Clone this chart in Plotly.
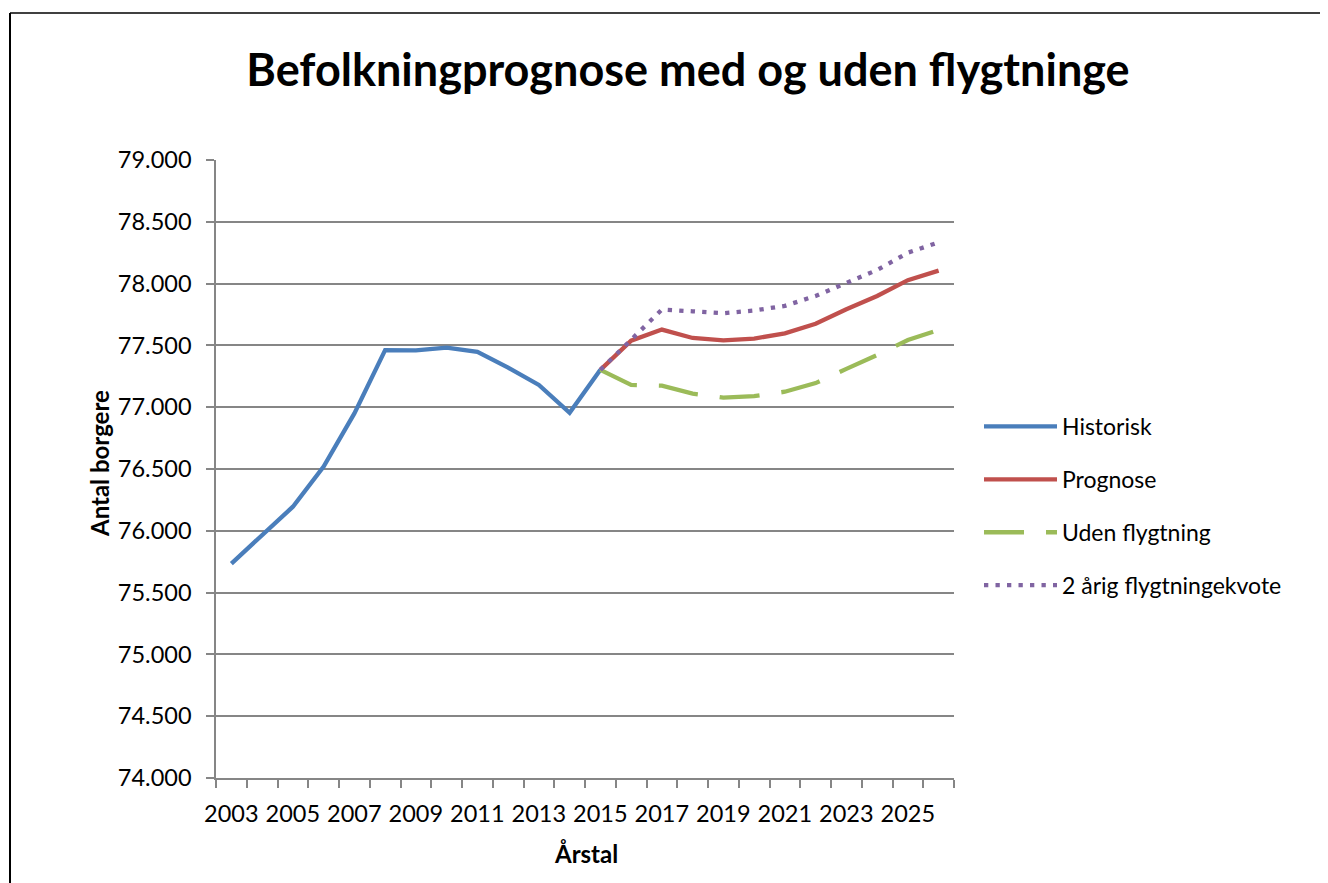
import plotly.graph_objects as go

years_hist = [2003, 2004, 2005, 2006, 2007, 2008, 2009, 2010, 2011, 2012, 2013, 2014, 2015]
historisk = [75735, 75965, 76195, 76520, 76950, 77462, 77460, 77482, 77448, 77320, 77180, 76955, 77302]

years_prog = [2015, 2016, 2017, 2018, 2019, 2020, 2021, 2022, 2023, 2024, 2025, 2026]
prognose = [77302, 77538, 77628, 77560, 77540, 77555, 77598, 77675, 77792, 77900, 78028, 78105]
uden_flygtning = [77302, 77180, 77174, 77110, 77078, 77090, 77125, 77195, 77310, 77422, 77544, 77625]
to_aarig = [77302, 77545, 77790, 77776, 77760, 77782, 77820, 77900, 78002, 78110, 78250, 78334]

x_labels = [2003, 2005, 2007, 2009, 2011, 2013, 2015, 2017, 2019, 2021, 2023, 2025]
y_ticks = [74000, 74500, 75000, 75500, 76000, 76500, 77000, 77500, 78000, 78500, 79000]

FONT = "Lato"
fig = go.Figure()
fig.add_trace(go.Scatter(x=years_hist, y=historisk, mode="lines", name="Historisk",
                         legendgroup="a", line=dict(color="#4A7EBB", width=4.3)))
fig.add_trace(go.Scatter(x=years_prog, y=prognose, mode="lines", name="Prognose",
                         legendgroup="b", line=dict(color="#C0504D", width=4.3)))
fig.add_trace(go.Scatter(x=years_prog, y=uden_flygtning, mode="lines", name="Uden flygtning",
                         legendgroup="c", line=dict(color="#9BBB59", width=4.3, dash="40px,22px")))
fig.add_trace(go.Scatter(x=years_prog, y=to_aarig, mode="lines", name="2 årig flygtningekvote",
                         legendgroup="d", line=dict(color="#8064A2", width=4.3, dash="4.3px,7.2px")))

# page has an 8px body margin; work in page pixel coordinates and subtract it
OFF = 8
W, H = 1328 - OFF, 883 - OFF
L, R, T, B = 216 - OFF, 954 - OFF, 160 - OFF, 778 - OFF
pw, ph = R - L, B - T


def px_x(p):
    return (p - OFF - L) / pw


def px_y(p):
    return (B - (p - OFF)) / ph


fig.update_layout(
    width=W, height=H,
    margin=dict(l=L, r=W - R, t=T, b=H - B, pad=0),
    paper_bgcolor="white", plot_bgcolor="white",
    separators=",.",
    font=dict(family=FONT, size=23, color="black"),
    title=dict(text="<b>Befolkningprognose med og uden flygtninge</b>",
               font=dict(family=FONT, size=45, color="black"),
               x=px_x(688), xref="paper", xanchor="center",
               y=1 - (70 - OFF) / H, yref="container", yanchor="middle"),
    showlegend=True,
    legend=dict(x=px_x(979), y=px_y(506), xanchor="left", yanchor="middle",
                font=dict(family=FONT, size=23, color="black"),
                itemwidth=73, tracegroupgap=20, traceorder="grouped",
                bgcolor="rgba(0,0,0,0)"),
    xaxis=dict(range=[2002.5, 2026.5], tickmode="array", tickvals=x_labels,
               ticktext=[str(v) for v in x_labels], ticks="", showgrid=False,
               showline=True, linecolor="#868686", linewidth=1.5, zeroline=False,
               ticklabelstandoff=14,
               tickfont=dict(family=FONT, size=23.5, color="black"),
               minor=dict(tickmode="linear", tick0=2002.5, dtick=1, ticks="outside",
                          ticklen=8, tickcolor="#868686", tickwidth=1.5, showgrid=False)),
    yaxis=dict(range=[74000, 79000], tickmode="array", tickvals=y_ticks,
               tickformat=",d", ticks="outside", ticklen=8, tickcolor="#868686",
               tickwidth=1.5, showgrid=True, gridcolor="#868686", gridwidth=1.5,
               showline=True, linecolor="#868686", linewidth=1.5, zeroline=False,
               ticklabelstandoff=10,
               tickfont=dict(family=FONT, size=23.5, color="black")),
    annotations=[
        dict(text="<b>Antal borgere</b>", textangle=-90, x=px_x(99), y=px_y(464),
             xref="paper", yref="paper", xanchor="center", yanchor="middle",
             showarrow=False, font=dict(family=FONT, size=24, color="black")),
        dict(text="<b>Årstal</b>", x=px_x(586), y=px_y(853), xref="paper", yref="paper",
             xanchor="center", yanchor="middle",
             showarrow=False, font=dict(family=FONT, size=24, color="black")),
    ],
    shapes=[
        dict(type="line", xref="paper", yref="paper", x0=px_x(10), x1=px_x(1340),
             y0=px_y(13), y1=px_y(13), line=dict(color="black", width=1.5)),
        dict(type="line", xref="paper", yref="paper", x0=px_x(10), x1=px_x(10),
             y0=px_y(13), y1=px_y(900), line=dict(color="black", width=2)),
    ],
)

fig.write_html("out.html")
